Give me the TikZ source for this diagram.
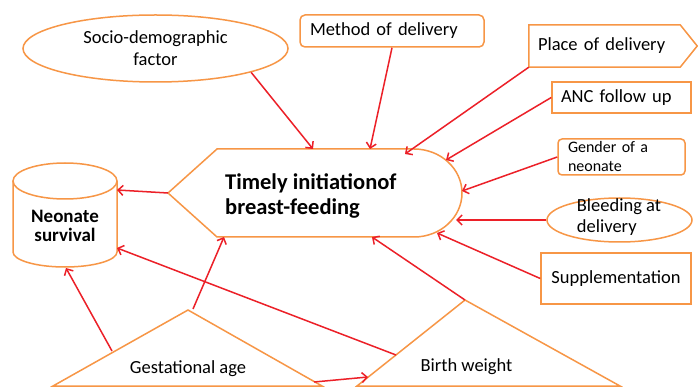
\documentclass[tikz,border=0pt]{standalone}
\usepackage{fontspec}
\setmainfont{Carlito}
\usetikzlibrary{arrows.meta,shapes.geometric}
\definecolor{ornge}{RGB}{247,150,70}
\definecolor{arrred}{RGB}{236,32,40}
\begin{document}
\begin{tikzpicture}[x=1pt,y=-1pt,
  shp/.style={draw=ornge,line width=1.5pt},
  arr/.style={draw=arrred,line width=1.5pt,-{Straight Barb[length=5pt,width=10pt]}},
  txt/.style={font=\fontsize{18.5}{22}\selectfont},
  btxt/.style={font=\fontsize{19}{19}\selectfont\bfseries},
]
\useasboundingbox[fill=white] (0,0) rectangle (698,387);

% central shape
\draw[shp] (168,193) -- (217,149) -- (414,149)
  arc[start angle=90,end angle=-90,x radius=48pt,y radius=44pt] -- (217,237) -- cycle;
\node[font=\fontsize{22.5}{24.5}\selectfont\bfseries,align=left,inner sep=0,anchor=west] (tib) at (225,196) {Timely initiationof\\breast-feeding};
\coordinate (tipL) at (168,193);
\coordinate (cT1) at (313,149);
\coordinate (cT2) at (370,149);
\coordinate (cT3) at (405,154);
\coordinate (cR1) at (446,160);
\coordinate (cR2) at (462,191);
\coordinate (cR3) at (456,220);
\coordinate (cR4) at (437,233);
\coordinate (cB1) at (224,237);
\coordinate (cB2) at (372,237);

% cylinder
\draw[shp] (13,181) -- (13,252) arc[start angle=180,end angle=360,x radius=52pt,y radius=15pt] -- (117,181);
\draw[shp] (65,181) ellipse [x radius=52pt,y radius=18pt];
\node[btxt,align=center,inner sep=0] (neo) at (65,226) {Neonate\\survival};
\coordinate (cyl1) at (117,190);
\coordinate (cyl2) at (117,248);
\coordinate (cyl3) at (66,268);

% triangles
\draw[shp] (188,310) -- (53,386) -- (322,386) -- cycle;
\node[txt,inner sep=0] (ga) at (188,368.5) {Gestational age};
\draw[shp] (465,300) -- (357,386) -- (620,386) -- cycle;
\node[txt,inner sep=0] (bw) at (466.5,367) {Birth weight};
\coordinate (g1) at (112,351);
\coordinate (g2) at (193,309);
\coordinate (g3) at (314,382);
\coordinate (b1) at (396,355);
\coordinate (b2) at (368,377);
\coordinate (bapex) at (465,300);

% factor nodes
\node[shp,ellipse,minimum width=265pt,minimum height=67pt,inner sep=0,align=center,txt] (socio) at (155.5,48.5) {Socio-demographic\\factor};
\node[shp,rounded corners=5pt,minimum height=32pt,inner xsep=10pt,inner ysep=0pt,text width=164pt,align=left,txt] (meth) at (392,31) {Method of delivery};
\node[txt,minimum height=42pt,inner xsep=9pt,inner ysep=0pt,text width=150pt,align=left] (place) at (613,46) {Place of delivery};
\draw[shp] (place.north west) -- ([xshift=-17pt]place.north east) -- (place.east) -- ([xshift=-17pt]place.south east) -- (place.south west) -- cycle;
\node[shp,minimum height=31pt,inner xsep=9pt,inner ysep=0pt,text width=121pt,align=left,txt] (anc) at (621.5,97.5) {ANC follow up};
\node[shp,rounded corners=4pt,minimum height=36pt,inner xsep=10pt,inner ysep=1pt,text width=107pt,align=left,font=\fontsize{16}{19}\selectfont] (gen) at (621.5,157) {Gender of a\\neonate};
\node[shp,ellipse,minimum width=145pt,minimum height=44pt] (bld) at (619.5,220) {};
\node[align=left,inner sep=0,font=\fontsize{18.5}{20.6}\selectfont] (bldt) at (619,217.3) {Bleeding at\\delivery};
\node[shp,minimum width=150pt,minimum height=51pt,txt] (sup) at (616,278.5) {Supplementation};

% connectors
\draw[arr] (socio.-14.5) -- (cT1);
\draw[arr] (meth.south) -- (cT2);
\draw[arr] (place.south west) -- (cT3);
\draw[arr] (anc.west) -- (cR1);
\draw[arr] (gen.west) -- (cR2);
\draw[arr] (bld.west) -- (cR3);
\draw[arr] (sup.west) -- (cR4);
\draw[arr] (tipL) -- (cyl1);
\draw[arr] (g1) -- (cyl3);
\draw[arr] (g2) -- (cB1);
\draw[arr] (b1) -- (cyl2);
\draw[arr] (bapex) -- (cB2);
\draw[arr] (g3) -- (b2);
\end{tikzpicture}
\end{document}
